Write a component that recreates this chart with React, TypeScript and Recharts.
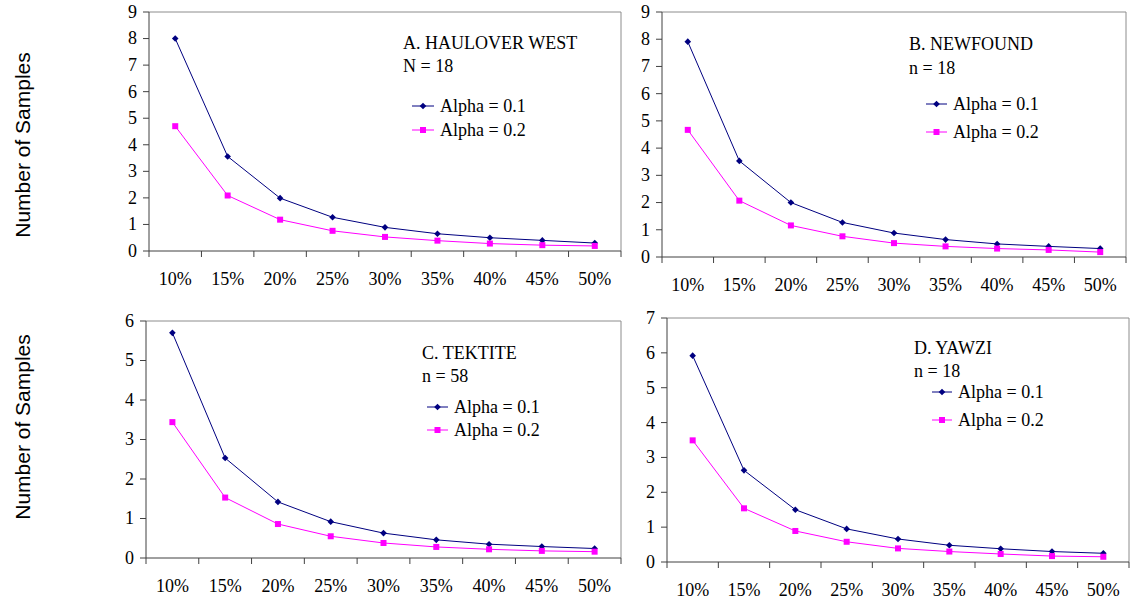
import React from "react";
import { LineChart, Line, XAxis, YAxis, ReferenceLine, Legend } from "recharts";

const pctLabels = ["10%", "15%", "20%", "25%", "30%", "35%", "40%", "45%", "50%"];

// A. Haulover West
const haulover01 = [8.0, 3.56, 1.99, 1.27, 0.89, 0.65, 0.5, 0.4, 0.3];
const haulover02 = [4.7, 2.09, 1.18, 0.76, 0.53, 0.39, 0.28, 0.22, 0.19];
// B. Newfound
const newfound01 = [7.91, 3.53, 2.0, 1.27, 0.88, 0.64, 0.48, 0.39, 0.31];
const newfound02 = [4.67, 2.07, 1.16, 0.76, 0.51, 0.39, 0.31, 0.26, 0.18];
// C. Tektite
const tektite01 = [5.7, 2.53, 1.42, 0.92, 0.63, 0.46, 0.35, 0.29, 0.24];
const tektite02 = [3.44, 1.53, 0.86, 0.55, 0.38, 0.28, 0.22, 0.18, 0.16];
// D. Yawzi
const yawzi01 = [5.92, 2.63, 1.5, 0.95, 0.66, 0.48, 0.38, 0.3, 0.25];
const yawzi02 = [3.49, 1.54, 0.89, 0.58, 0.39, 0.3, 0.23, 0.17, 0.15];

const ticks0to9 = [0, 1, 2, 3, 4, 5, 6, 7, 8, 9];
const ticks0to6 = [0, 1, 2, 3, 4, 5, 6];
const ticks0to7 = [0, 1, 2, 3, 4, 5, 6, 7];

const seriesNames = ["Alpha = 0.1", "Alpha = 0.2"];
const yAxisTitle = "Number of Samples";

const SERIF = '"Liberation Serif", "Times New Roman", serif';
const SANS = '"Liberation Sans", Arial, sans-serif';
const NAVY = "#000080";
const PINK = "#ff00ff";
const AXIS = "#404040";
const FRAME = "#8c8c8c";

const serifText = { fontFamily: SERIF, fontSize: 18 };

// tick marks sit between categories, labels in the middle of each one
const xTicks = pctLabels.flatMap((_, i) => [i, i + 0.5]).concat([pctLabels.length]);

const makeData = (a1: number[], a2: number[]) =>
  pctLabels.map((label, i) => ({ x: i + 0.5, label, a1: a1[i], a2: a2[i] }));

const panels = [
  {
    title: "A. HAULOVER WEST", sub: "N = 18", a1: haulover01, a2: haulover02, yTicks: ticks0to9,
    box: { left: 0, top: 0, width: 640, height: 300 },
    margin: { top: 12, right: 19, bottom: 9, left: 0 }, yWidth: 149,
    lg: { titleX: 403, titleY: 49, subY: 72, lineX: 412, lineW: 22, rows: [106, 130], textX: 440 },
    yLabel: { x: 22, y: 145 },
  },
  {
    title: "B. NEWFOUND", sub: "n = 18", a1: newfound01, a2: newfound02, yTicks: ticks0to9,
    box: { left: 620, top: 0, width: 518, height: 300 },
    margin: { top: 12, right: 12, bottom: 3, left: 0 }, yWidth: 42,
    lg: { titleX: 909, titleY: 50, subY: 74, lineX: 926, lineW: 21, rows: [104, 132], textX: 953 },
  },
  {
    title: "C. TEKTITE", sub: "n = 58", a1: tektite01, a2: tektite02, yTicks: ticks0to6,
    box: { left: 0, top: 300, width: 640, height: 303 },
    margin: { top: 21, right: 19, bottom: 5, left: 0 }, yWidth: 146,
    lg: { titleX: 422, titleY: 359, subY: 382, lineX: 427, lineW: 21, rows: [407, 430], textX: 454 },
    yLabel: { x: 22, y: 427 },
  },
  {
    title: "D. YAWZI", sub: "n = 18", a1: yawzi01, a2: yawzi02, yTicks: ticks0to7,
    box: { left: 620, top: 300, width: 518, height: 303 },
    margin: { top: 18, right: 9, bottom: 1, left: 0 }, yWidth: 47,
    lg: { titleX: 914, titleY: 354, subY: 377, lineX: 932, lineW: 20, rows: [392, 420], textX: 958 },
  },
];

function diamond(cx: number, cy: number, r: number, key?: any) {
  return (
    <polygon
      key={key}
      points={`${cx},${cy - r} ${cx + r},${cy} ${cx},${cy + r} ${cx - r},${cy}`}
      fill={NAVY}
    />
  );
}

function square(cx: number, cy: number, r: number, key?: any) {
  return <rect key={key} x={cx - r} y={cy - r} width={r * 2} height={r * 2} fill={PINK} />;
}

const diamondDot = (p: any) => diamond(p.cx, p.cy, 3.3, p.key);
const squareDot = (p: any) => square(p.cx, p.cy, 3, p.key);

const renderXTick = (p: any) => {
  const { x, y, payload } = p;
  const v = payload.value;
  if (Number.isInteger(v)) {
    return <line x1={x} x2={x} y1={y} y2={y + 6} stroke={AXIS} />;
  }
  return (
    <text x={x} y={y + 34} textAnchor="middle" fill="#000" style={serifText}>
      {pctLabels[Math.floor(v)]}
    </text>
  );
};

const renderYTick = (p: any) => {
  const { x, y, payload } = p;
  return (
    <text x={x} y={y} dy="0.33em" textAnchor="end" fill="#000" style={serifText}>
      {payload.value}
    </text>
  );
};

function Panel({ cfg }: { cfg: any }) {
  const data = makeData(cfg.a1, cfg.a2);
  const yMax = cfg.yTicks[cfg.yTicks.length - 1];
  const { box, lg } = cfg;
  const ox = box.left;
  const oy = box.top;

  const legendContent = (props: any) => {
    const payload = props.payload || [];
    return (
      <svg width={box.width} height={box.height} style={{ overflow: "visible" }}>
        <text x={lg.titleX - ox} y={lg.titleY - oy} fill="#000" style={serifText}>
          {cfg.title}
        </text>
        <text x={lg.titleX - ox} y={lg.subY - oy} fill="#000" style={serifText}>
          {cfg.sub}
        </text>
        {payload.map((entry: any, i: number) => {
          const ry = lg.rows[i] - oy;
          const lx = lg.lineX - ox;
          const mid = lx + lg.lineW / 2;
          return (
            <g key={entry.value}>
              <line x1={lx} x2={lx + lg.lineW} y1={ry} y2={ry} stroke={entry.color} />
              {entry.dataKey === "a1" ? diamond(mid, ry, 3.3) : square(mid, ry, 3)}
              <text x={lg.textX - ox} y={ry + 6} fill="#000" style={serifText}>
                {entry.value}
              </text>
            </g>
          );
        })}
      </svg>
    );
  };

  const yLabel = cfg.yLabel
    ? () => {
        const x = cfg.yLabel.x - ox;
        const y = cfg.yLabel.y - oy;
        return (
          <text
            x={x}
            y={y}
            transform={`rotate(-90, ${x}, ${y})`}
            textAnchor="middle"
            dominantBaseline="central"
            fill="#000"
            style={{ fontFamily: SANS, fontSize: 21 }}
          >
            {yAxisTitle}
          </text>
        );
      }
    : undefined;

  return (
    <div style={{ position: "absolute", left: box.left, top: box.top }}>
      <LineChart width={box.width} height={box.height} data={data} margin={cfg.margin}>
        <XAxis
          type="number"
          dataKey="x"
          domain={[0, pctLabels.length]}
          ticks={xTicks}
          interval={0}
          tickLine={false}
          tickSize={0}
          tickMargin={0}
          axisLine={{ stroke: AXIS }}
          height={40}
          tick={renderXTick}
        />
        <YAxis
          type="number"
          domain={[0, yMax]}
          ticks={cfg.yTicks}
          interval={0}
          width={cfg.yWidth}
          tickSize={6}
          tickMargin={6}
          axisLine={{ stroke: AXIS }}
          tickLine={{ stroke: AXIS }}
          tick={renderYTick}
          label={yLabel}
        />
        <ReferenceLine y={yMax} stroke={FRAME} />
        <ReferenceLine x={pctLabels.length} stroke={FRAME} />
        <Legend
          layout="horizontal"
          verticalAlign="middle"
          align="center"
          wrapperStyle={{ left: 0, top: 0, width: box.width, height: box.height, pointerEvents: "none" }}
          content={legendContent}
        />
        <Line
          type="linear"
          dataKey="a1"
          name={seriesNames[0]}
          stroke={NAVY}
          strokeWidth={1}
          dot={diamondDot}
          activeDot={false}
          isAnimationActive={false}
        />
        <Line
          type="linear"
          dataKey="a2"
          name={seriesNames[1]}
          stroke={PINK}
          strokeWidth={1}
          dot={squareDot}
          activeDot={false}
          isAnimationActive={false}
        />
      </LineChart>
    </div>
  );
}

export default function App() {
  return (
    <div style={{ position: "absolute", left: 0, top: 0, width: 1138, height: 603, background: "#fff" }}>
      {panels.map((p) => (
        <Panel key={p.title} cfg={p} />
      ))}
    </div>
  );
}
